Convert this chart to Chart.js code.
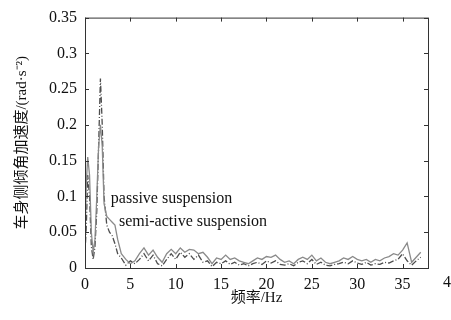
<!DOCTYPE html>
<html>
<head>
<meta charset="utf-8">
<script src="https://cdn.jsdelivr.net/npm/chart.js@4.4.0/dist/chart.umd.min.js"></script>
<style>
  html, body { margin: 0; padding: 0; background: #fff; }
  #wrap { width: 451px; height: 320px; }
</style>
</head>
<body>
<div id="wrap"><canvas id="myChart" width="451" height="320"></canvas></div>
<script>
// frequency axis (Hz)
const freq = [
    0, 0.15, 0.3, 0.5, 0.7, 0.9, 1.1, 1.3, 1.5, 1.7, 1.9, 2.1, 2.4, 2.7, 3.0, 3.3, 3.6, 4.0, 4.5, 5.0,
    5.5, 6, 6.5, 7, 7.5, 8, 8.5, 9, 9.5, 10, 10.5, 11, 11.5, 12, 12.5, 13, 13.5, 14, 14.5, 15,
    15.5, 16, 16.5, 17, 17.5, 18, 18.5, 19, 19.5, 20, 20.5, 21, 21.5, 22, 22.5, 23, 23.5, 24, 24.5, 25,
    25.5, 26, 26.5, 27, 27.5, 28, 28.5, 29, 29.5, 30, 30.5, 31, 31.5, 32, 32.5, 33, 33.5, 34, 34.5, 35,
    35.5, 36, 36.5, 37
];

const passive = [
    0.05, 0.12, 0.155, 0.13, 0.05, 0.022, 0.04, 0.1, 0.17, 0.2, 0.17, 0.09, 0.072, 0.068, 0.064, 0.06, 0.04, 0.02, 0.012, 0.006,
    0.01, 0.02, 0.028, 0.018, 0.025, 0.015, 0.008, 0.02, 0.026, 0.02, 0.028, 0.022, 0.026, 0.025, 0.02, 0.022, 0.015, 0.006, 0.014, 0.012,
    0.018, 0.012, 0.014, 0.01, 0.008, 0.006, 0.01, 0.014, 0.012, 0.016, 0.015, 0.018, 0.012, 0.008, 0.01, 0.006, 0.012, 0.015, 0.012, 0.018,
    0.01, 0.014, 0.008, 0.006, 0.008, 0.01, 0.014, 0.012, 0.016, 0.012, 0.01, 0.012, 0.008, 0.012, 0.01, 0.014, 0.016, 0.02, 0.018, 0.025,
    0.035, 0.008, 0.015, 0.022
];

const semiActive = [
    0.02, 0.06, 0.13, 0.1, 0.03, 0.012, 0.03, 0.08, 0.17, 0.265, 0.2, 0.1, 0.06, 0.05, 0.045, 0.034, 0.02, 0.014, 0.004, 0.01,
    0.006, 0.012, 0.02, 0.01, 0.018, 0.006, 0.003, 0.012, 0.02, 0.012, 0.022, 0.015, 0.02, 0.012, 0.018, 0.008, 0.01, 0.002, 0.008, 0.006,
    0.01, 0.005, 0.008, 0.004, 0.006, 0.003, 0.006, 0.008, 0.005, 0.01, 0.007, 0.01, 0.005, 0.004, 0.006, 0.003, 0.008, 0.01, 0.006, 0.012,
    0.005, 0.008, 0.004, 0.003, 0.005, 0.006, 0.008, 0.006, 0.01, 0.007, 0.005, 0.008, 0.004, 0.006, 0.005, 0.008, 0.007, 0.01, 0.012, 0.02,
    0.01, 0.004, 0.01, 0.015
];

const xTicks = [0, 5, 10, 15, 20, 25, 30, 35, 40];
const yTicks = [0, 0.05, 0.1, 0.15, 0.2, 0.25, 0.3, 0.35];

// text labels next to the curves, in data units
const labelText = ['passive suspension', 'semi-active suspension'];
const labelX = [2.85, 3.75];
const labelY = [0.097, 0.064];

const serif = '"Liberation Serif", "Noto Sans CJK SC", serif';

const toPoints = (ys) => freq.map((f, i) => ({ x: f, y: ys[i] }));

// box with inward tick marks on all four sides, plus the cut-off "40"
const frameBox = {
    id: 'frameBox',
    afterDraw(chart) {
        const { ctx, chartArea: a, scales: { x, y } } = chart;
        ctx.save();
        ctx.strokeStyle = '#333';
        ctx.lineWidth = 1;
        ctx.strokeRect(a.left + 0.5, a.top + 0.5, a.right - a.left, a.bottom - a.top);
        ctx.beginPath();
        xTicks.forEach(v => {
            const px = Math.round(x.getPixelForValue(v)) + 0.5;
            if (px > a.right) return;
            ctx.moveTo(px, a.bottom); ctx.lineTo(px, a.bottom - 4);
            ctx.moveTo(px, a.top); ctx.lineTo(px, a.top + 4);
        });
        yTicks.forEach(v => {
            const py = Math.round(y.getPixelForValue(v)) + 0.5;
            ctx.moveTo(a.left, py); ctx.lineTo(a.left + 4, py);
            ctx.moveTo(a.right, py); ctx.lineTo(a.right - 4, py);
        });
        ctx.stroke();

        ctx.fillStyle = '#111';
        ctx.font = '16px ' + serif;
        ctx.textAlign = 'center';
        ctx.textBaseline = 'middle';
        ctx.fillText('40', x.getPixelForValue(40) + 3, 283);

        ctx.textAlign = 'left';
        labelText.forEach((t, i) => {
            ctx.fillText(t, x.getPixelForValue(labelX[i]), y.getPixelForValue(labelY[i]));
        });
        ctx.restore();
    }
};

const ctx = document.getElementById('myChart').getContext('2d');
const myChart = new Chart(ctx, {
    type: 'line',
    data: {
        datasets: [{
                label: 'passive suspension',
                data: toPoints(passive),
                borderColor: '#8a8a8a',
                borderWidth: 1.3,
                pointRadius: 0,
                tension: 0
            },
            {
                label: 'semi-active suspension',
                data: toPoints(semiActive),
                borderColor: '#4d4d4d',
                borderWidth: 1.3,
                borderDash: [6, 2, 1, 2],
                pointRadius: 0,
                tension: 0
            }
        ]
    },
    options: {
        responsive: false,
        animation: false,
        layout: { padding: { top: 12, right: 23, left: 0, bottom: 0 } },
        plugins: {
            legend: { display: false },
            tooltip: { enabled: false }
        },
        scales: {
            x: {
                type: 'linear',
                min: 0,
                max: 37.8,
                afterFit: (s) => { s.height = 52; },
                afterBuildTicks: (s) => { s.ticks = xTicks.filter(v => v <= 37.8).map(v => ({ value: v })); },
                grid: { display: false, drawTicks: false },
                border: { display: false },
                ticks: { color: '#111', font: { family: serif, size: 16 }, padding: 7, maxRotation: 0 },
                title: {
                    display: true,
                    text: '频率/Hz',
                    color: '#111',
                    font: { family: serif, size: 15 },
                    padding: { top: 0, bottom: 13 }
                }
            },
            y: {
                min: 0,
                max: 0.35,
                afterFit: (s) => { s.width = 85; },
                afterBuildTicks: (s) => { s.ticks = yTicks.map(v => ({ value: v })); },
                grid: { display: false, drawTicks: false },
                border: { display: false },
                ticks: {
                    color: '#111',
                    font: { family: serif, size: 16 },
                    padding: 8,
                    callback: (v) => String(+Number(v).toFixed(2))
                },
                title: {
                    display: true,
                    text: '车身侧倾角加速度/(rad·s⁻²)',
                    color: '#111',
                    font: { family: serif, size: 15 },
                    padding: { top: 13, bottom: 0 }
                }
            }
        }
    },
    plugins: [frameBox]
});
</script>
</body>
</html>
